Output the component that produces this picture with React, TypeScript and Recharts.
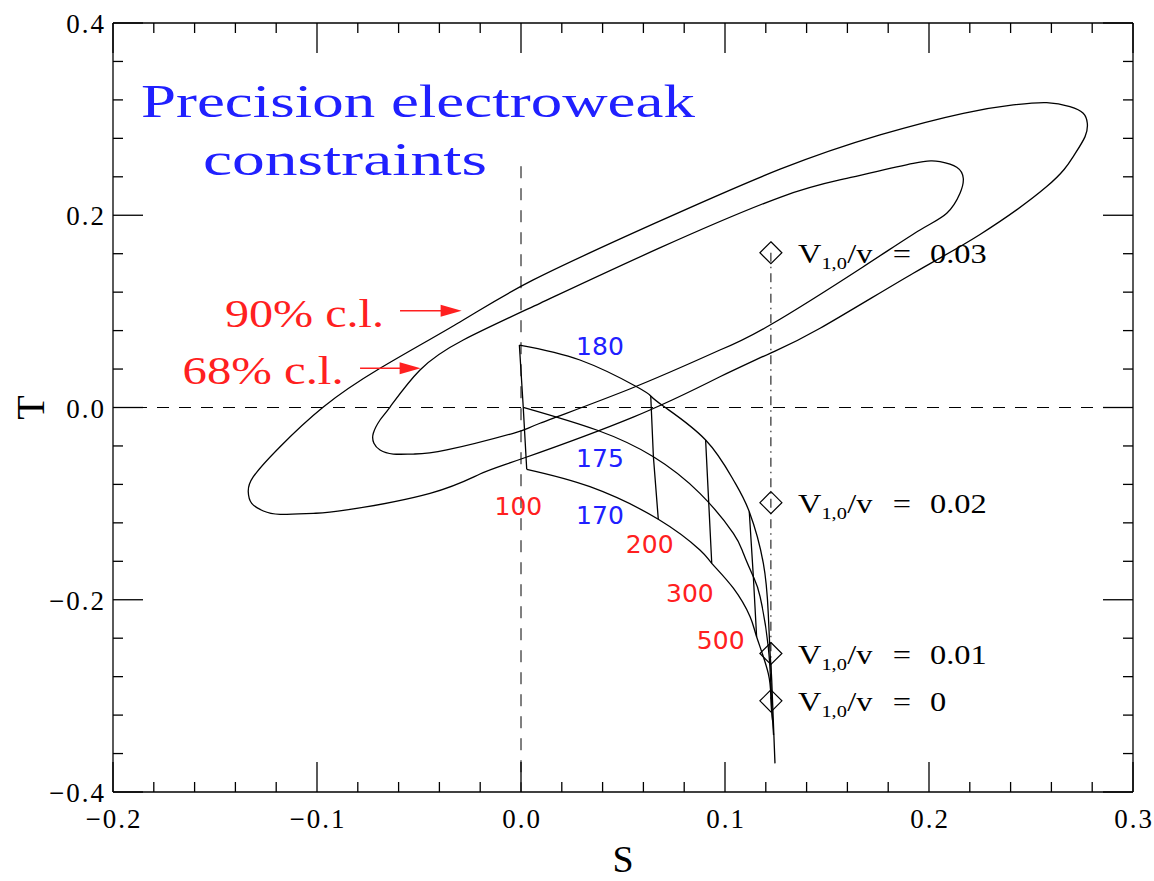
import React from 'react';
import { ComposedChart, XAxis, YAxis, Line, Scatter, ReferenceLine, Label } from 'recharts';

// ---- contours (S, T) ----
const CL90 = [
  [0.0975, 0.032], [0.1221, 0.0564], [0.1466, 0.0824], [0.1923, 0.1397], [0.225, 0.18],
  [0.2577, 0.2298], [0.2707, 0.261], [0.2765, 0.2818], [0.2776, 0.2957], [0.2756, 0.3061],
  [0.2691, 0.313], [0.2577, 0.3172], [0.2413, 0.3148], [0.2168, 0.3061], [0.176, 0.2836],
  [0.127, 0.2479], [0.066, 0.192], [0.006, 0.1327], [-0.0299, 0.089], [-0.0691, 0.0408],
  [-0.0969, 0.0005], [-0.1181, -0.0408], [-0.1312, -0.072], [-0.1337, -0.0876],
  [-0.132, -0.0997], [-0.1263, -0.1077], [-0.1181, -0.1111], [-0.1018, -0.1101],
  [-0.0854, -0.1066], [-0.0446, -0.0893], [-0.0201, -0.0692], [0.0011, -0.0528],
  [0.055, -0.01], [0.0975, 0.032],
];

const CL68 = [
  [0.0975, 0.0598], [0.1221, 0.0858], [0.1678, 0.1465], [0.1956, 0.1847], [0.2087, 0.2021],
  [0.2152, 0.2229], [0.2168, 0.2385], [0.2136, 0.2499], [0.2054, 0.2557], [0.1923, 0.254],
  [0.1597, 0.2384], [0.127, 0.2187], [0.068, 0.166], [0.0093, 0.1084], [-0.0283, 0.0702],
  [-0.0495, 0.039], [-0.0642, 0.0005], [-0.0691, -0.013], [-0.0724, -0.0268],
  [-0.0721, -0.0372], [-0.0691, -0.0442], [-0.0626, -0.0484], [-0.0528, -0.0484],
  [-0.0364, -0.0442], [-0.0038, -0.0268], [0.0093, -0.0164], [0.053, 0.019], [0.0975, 0.0598],
];

// top mass curves
const MT180 = [
  [-0.0008, 0.065], [0.0289, 0.0494], [0.0567, 0.0216], [0.0636, 0.012], [0.0706, 0.0002],
  [0.0905, -0.0338], [0.1041, -0.0754], [0.1119, -0.1084], [0.1188, -0.1621],
  [0.1212, -0.2141], [0.1221, -0.2557], [0.1229, -0.2836], [0.1245, -0.3702],
];
const MT175 = [
  [0.0011, 0.0002], [0.0371, -0.0234], [0.0649, -0.0512], [0.0877, -0.0893],
  [0.1041, -0.1309], [0.109, -0.1517], [0.1139, -0.176], [0.1172, -0.1968],
  [0.1212, -0.2488], [0.1228, -0.3043], [0.1238, -0.3407],
];
const MT170 = [
  [0.0028, -0.0643], [0.0338, -0.0824], [0.0673, -0.1163], [0.0877, -0.1483],
  [0.0935, -0.1621], [0.1041, -0.188], [0.1123, -0.2177], [0.1155, -0.2385],
  [0.1212, -0.2766], [0.1225, -0.3043], [0.1233, -0.3252],
];

// Higgs mass lines
const MH100 = [[-0.0008, 0.065], [0.0011, 0.0002], [0.0028, -0.0643]];
const MH200 = [[0.0636, 0.012], [0.0649, -0.0512], [0.0673, -0.1163]];
const MH300 = [[0.0905, -0.0338], [0.092, -0.098], [0.0935, -0.1621]];
const MH500 = [[0.1119, -0.1084], [0.1139, -0.176], [0.1155, -0.2385]];

// V_{1,0}/v markers
const V_VALUES = ['0.03', '0.02', '0.01', '0'];
const V_T = [0.161, -0.099, -0.2559, -0.3052];
const V_S = 0.1225;

// ticks
const X_MAJOR = [-0.2, -0.1, 0, 0.1, 0.2, 0.3];
const X_MINOR = [
  -0.18, -0.16, -0.14, -0.12, -0.08, -0.06, -0.04, -0.02, 0.02, 0.04, 0.06, 0.08,
  0.12, 0.14, 0.16, 0.18, 0.22, 0.24, 0.26, 0.28,
];
const Y_MAJOR = [-0.4, -0.2, 0, 0.2, 0.4];
const Y_MINOR = [
  -0.36, -0.32, -0.28, -0.24, -0.16, -0.12, -0.08, -0.04, 0.04, 0.08, 0.12, 0.16,
  0.24, 0.28, 0.32, 0.36,
];

// annotations (anchored in S, T)
const MT_LABELS = [
  { s: 0.0387, t: 0.0546, text: '180' },
  { s: 0.0387, t: -0.0616, text: '175' },
  { s: 0.0387, t: -0.1212, text: '170' },
];
const MH_LABELS = [
  { s: -0.0013, t: -0.1119, text: '100' },
  { s: 0.0631, t: -0.1517, text: '200' },
  { s: 0.0828, t: -0.202, text: '300' },
  { s: 0.0979, t: -0.2515, text: '500' },
];
const TITLE = [
  { s: -0.1863, t: 0.3019, text: 'Precision electroweak', w: 554 },
  { s: -0.1559, t: 0.2419, text: 'constraints', w: 284 },
];
const CL_LABELS = [
  { s: -0.1451, t: 0.0841, text: '90% c.l.', w: 159 },
  { s: -0.1659, t: 0.0244, text: '68% c.l.', w: 161 },
];
const ARROW_TIPS = [
  { s: -0.0291, t: 0.1007, from: -0.0593 },
  { s: -0.0492, t: 0.0408, from: -0.0789 },
];

const serif = '"Liberation Serif", "DejaVu Serif", serif';
const sans = '"DejaVu Sans", "Liberation Sans", sans-serif';
const BLUE = '#2020ff';
const RED = '#ff2020';

const pts = (rows: number[][]) => rows.map(([s, t]) => ({ s, t }));

const vPoints = V_VALUES.map((v, i) => ({ s: V_S, t: V_T[i], text: v }));
const vLabels = V_VALUES.map((v, i) => ({ s: 0.1358, t: V_T[i] - 0.0108, text: v }));

const fmt = (v: number) => {
  const s = Math.abs(v).toFixed(1);
  return v < -1e-9 ? '\u2212' + s : s;
};
const isMajor = (list: number[], v: number) => list.some((m) => Math.abs(m - v) < 1e-9);

const MAJOR_LEN = 30;
const MINOR_LEN = 10;
const tickText = { fill: '#000', fontSize: 27, fontFamily: serif, letterSpacing: 2 };

// tick drawers: (x, y) is the point on the frame
const BottomTick = (p: any) => {
  const major = isMajor(X_MAJOR, p.payload.value);
  return (
    <g>
      <line x1={p.x} x2={p.x} y1={p.y} y2={p.y - (major ? MAJOR_LEN : MINOR_LEN)} stroke="#000" strokeWidth={1.3} />
      {major && (
        <text x={p.x + 1} y={p.y + 36} textAnchor="middle" {...tickText}>
          {fmt(p.payload.value)}
        </text>
      )}
    </g>
  );
};
const TopTick = (p: any) => {
  const major = isMajor(X_MAJOR, p.payload.value);
  return <line x1={p.x} x2={p.x} y1={p.y} y2={p.y + (major ? MAJOR_LEN : MINOR_LEN)} stroke="#000" strokeWidth={1.3} />;
};
const LeftTick = (p: any) => {
  const major = isMajor(Y_MAJOR, p.payload.value);
  return (
    <g>
      <line x1={p.x} x2={p.x + (major ? MAJOR_LEN : MINOR_LEN)} y1={p.y} y2={p.y} stroke="#000" strokeWidth={1.3} />
      {major && (
        <text x={p.x - 7} y={p.y + 10} textAnchor="end" {...tickText}>
          {fmt(p.payload.value)}
        </text>
      )}
    </g>
  );
};
const RightTick = (p: any) => {
  const major = isMajor(Y_MAJOR, p.payload.value);
  return <line x1={p.x} x2={p.x - (major ? MAJOR_LEN : MINOR_LEN)} y1={p.y} y2={p.y} stroke="#000" strokeWidth={1.3} />;
};

const Diamond = (p: any) => (
  <path
    d={`M${p.cx},${p.cy - 11}L${p.cx + 11},${p.cy}L${p.cx},${p.cy + 11}L${p.cx - 11},${p.cy}Z`}
    fill="none"
    stroke="#000"
    strokeWidth={1.2}
  />
);

const ArrowHead = (p: any) => (
  <path d={`M${p.cx},${p.cy}L${p.cx - 21},${p.cy - 6}L${p.cx - 21},${p.cy + 6}Z`} fill={RED} />
);

const textShape =
  (font: string, size: number, color: string, anchor: 'start' | 'middle' | 'end') => (p: any) => (
    <text
      x={p.cx}
      y={p.cy}
      fill={color}
      fontFamily={font}
      fontSize={size}
      textAnchor={anchor}
      textLength={p.payload.w}
      lengthAdjust={p.payload.w ? 'spacingAndGlyphs' : undefined}
    >
      {p.payload.text}
    </text>
  );

// V_{1,0}/v = value, one text element, set wide like the original
const VLabel = (p: any) => (
  <text transform={`translate(${p.cx} ${p.cy}) scale(1.2 1)`} x={0} y={0} fill="#000" fontFamily={serif} fontSize={27}>
    <tspan x={0} y={0}>V</tspan>
    <tspan x={19.5} y={6} fontSize={17}>1,0</tspan>
    <tspan x={41} y={0}>/v</tspan>
    <tspan x={79} y={0}>=</tspan>
    <tspan x={110} y={0}>{p.payload.text}</tspan>
  </text>
);

const frame = { stroke: '#000', strokeWidth: 1.3 };
const X_TICKS = [...X_MAJOR, ...X_MINOR].sort((a, b) => a - b);
const Y_TICKS = [...Y_MAJOR, ...Y_MINOR].sort((a, b) => a - b);

export default function App() {
  return (
    <div style={{ position: 'absolute', left: 0, top: 0, width: 1154, height: 881, background: '#fff' }}>
      <ComposedChart width={1154} height={881} margin={{ top: 22, right: 20, bottom: 88, left: 112 }}>
        <XAxis
          dataKey="s"
          type="number"
          domain={[-0.2, 0.3]}
          allowDataOverflow
          ticks={X_TICKS}
          interval={0}
          height={1}
          tickSize={0}
          tickMargin={0}
          tickLine={false}
          tick={BottomTick}
          axisLine={frame}
        >
          <Label value="S" position="bottom" offset={52} style={{ fontSize: 38, fontFamily: serif, fill: '#000' }} />
        </XAxis>
        <XAxis
          xAxisId="top"
          orientation="top"
          dataKey="s"
          type="number"
          domain={[-0.2, 0.3]}
          allowDataOverflow
          ticks={X_TICKS}
          interval={0}
          height={1}
          tickSize={0}
          tickMargin={0}
          tickLine={false}
          tick={TopTick}
          axisLine={frame}
        />
        <YAxis
          type="number"
          domain={[-0.4, 0.4]}
          allowDataOverflow
          ticks={Y_TICKS}
          interval={0}
          width={1}
          tickSize={0}
          tickMargin={0}
          tickLine={false}
          tick={LeftTick}
          axisLine={frame}
        >
          <Label
            content={(props: any) => {
              const vb = props.viewBox || {};
              const x = (vb.x ?? 112) - 68;
              const y = (vb.y ?? 23) + (vb.height ?? 769) / 2;
              return (
                <text x={x} y={y} transform={`rotate(-90 ${x} ${y})`} textAnchor="middle"
                  fontFamily={serif} fontSize={40} fill="#000">
                  T
                </text>
              );
            }}
          />
        </YAxis>
        <YAxis
          yAxisId="right"
          orientation="right"
          type="number"
          domain={[-0.4, 0.4]}
          allowDataOverflow
          ticks={Y_TICKS}
          interval={0}
          width={1}
          tickSize={0}
          tickMargin={0}
          tickLine={false}
          tick={RightTick}
          axisLine={frame}
        />

        <ReferenceLine y={0} stroke="#000" strokeWidth={1} strokeDasharray="12 10" />
        <ReferenceLine segment={[{ x: 0, y: 0.251 }, { x: 0, y: -0.4 }]} stroke="#000" strokeWidth={1} strokeDasharray="12 10" />
        <ReferenceLine segment={[{ x: V_S, y: V_T[0] }, { x: V_S, y: V_T[3] }]} stroke="#000" strokeWidth={1} strokeDasharray="9 5 1.5 5" />

        <Line data={pts(CL90)} dataKey="t" type="natural" stroke="#000" strokeWidth={1.3} dot={false} isAnimationActive={false} />
        <Line data={pts(CL68)} dataKey="t" type="natural" stroke="#000" strokeWidth={1.3} dot={false} isAnimationActive={false} />
        <Line data={pts(MT180)} dataKey="t" type="natural" stroke="#000" strokeWidth={1.3} dot={false} isAnimationActive={false} />
        <Line data={pts(MT175)} dataKey="t" type="natural" stroke="#000" strokeWidth={1.3} dot={false} isAnimationActive={false} />
        <Line data={pts(MT170)} dataKey="t" type="natural" stroke="#000" strokeWidth={1.3} dot={false} isAnimationActive={false} />
        <Line data={pts(MH100)} dataKey="t" type="linear" stroke="#000" strokeWidth={1.3} dot={false} isAnimationActive={false} />
        <Line data={pts(MH200)} dataKey="t" type="linear" stroke="#000" strokeWidth={1.3} dot={false} isAnimationActive={false} />
        <Line data={pts(MH300)} dataKey="t" type="linear" stroke="#000" strokeWidth={1.3} dot={false} isAnimationActive={false} />
        <Line data={pts(MH500)} dataKey="t" type="linear" stroke="#000" strokeWidth={1.3} dot={false} isAnimationActive={false} />

        {ARROW_TIPS.map((a, i) => (
          <ReferenceLine key={i} segment={[{ x: a.from, y: a.t }, { x: a.s - 0.006, y: a.t }]} stroke={RED} strokeWidth={1.6} />
        ))}
        <Scatter data={ARROW_TIPS} dataKey="t" shape={ArrowHead} isAnimationActive={false} />
        <Scatter data={vPoints} dataKey="t" shape={Diamond} isAnimationActive={false} />
        <Scatter data={vLabels} dataKey="t" shape={VLabel} isAnimationActive={false} />
        <Scatter data={MT_LABELS} dataKey="t" shape={textShape(sans, 25, BLUE, 'middle')} isAnimationActive={false} />
        <Scatter data={MH_LABELS} dataKey="t" shape={textShape(sans, 25, RED, 'middle')} isAnimationActive={false} />
        <Scatter data={TITLE} dataKey="t" shape={textShape(serif, 47, BLUE, 'start')} isAnimationActive={false} />
        <Scatter data={CL_LABELS} dataKey="t" shape={textShape(serif, 40, RED, 'start')} isAnimationActive={false} />
      </ComposedChart>
    </div>
  );
}
